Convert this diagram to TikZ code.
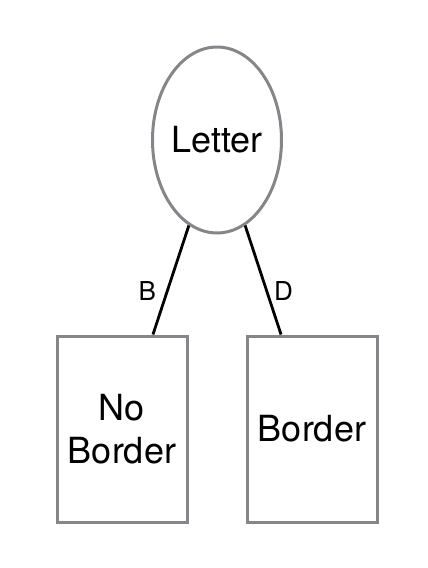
\documentclass[tikz,border=0pt]{standalone}
\usepackage{fontspec}
\setmainfont{TeX Gyre Heros}
\usetikzlibrary{shapes.geometric}
\definecolor{G0}{HTML}{86868A}
\tikzset{
    leaf/.style = {draw=G0, line width=3pt, rectangle, minimum width=130pt, minimum height=186pt, inner sep=0pt, align=center},
    root/.style = {draw=G0, line width=3pt, ellipse, minimum width=129pt, minimum height=186pt, inner sep=0pt},
    edge/.style = {line width=2.8pt, black}
}
\begin{document}
\begin{tikzpicture}[x=1pt, y=-1pt]
    \useasboundingbox (0,0) rectangle (428,568);
    \fontsize{36}{43}\selectfont
        \node [root] (letter) at (217,140) {Letter};
        \node [leaf] (noborder) at (122,429) {No\\Border};
        \node [leaf] (border) at (312,429) {Border};
        \draw [edge] (letter) -- node [pos=0.6, left=8pt, inner sep=2pt] {\fontsize{26}{30}\selectfont B} (noborder);
        \draw [edge] (letter) -- node [pos=0.6, right=4pt, inner sep=2pt] {\fontsize{26}{30}\selectfont D} (border);
    \end{tikzpicture}
\end{document}
